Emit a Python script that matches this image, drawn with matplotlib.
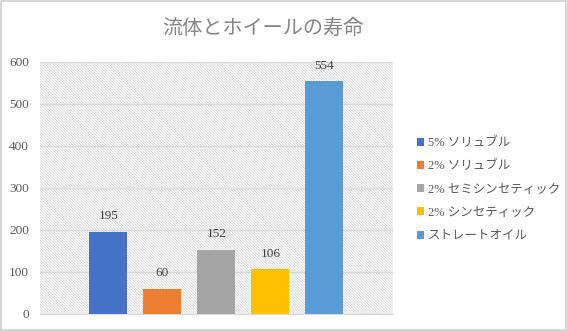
import matplotlib
matplotlib.use("Agg")
import matplotlib.pyplot as plt
from matplotlib.patches import Rectangle

series = ["5% ソリュブル", "2% ソリュブル", "2% セミシンセティック", "2% シンセティック", "ストレートオイル"]
values = [195, 60, 152, 106, 554]
colors = ["#4472C4", "#ED7D31", "#A5A5A5", "#FFC000", "#5B9BD5"]
yticks = [0, 100, 200, 300, 400, 500, 600]
title = "流体とホイールの寿命"

plt.rcParams["hatch.color"] = "#d6d6d6"
plt.rcParams["hatch.linewidth"] = 0.6

fig = plt.figure(figsize=(5.67, 3.31), dpi=100)
fig.patch.set_facecolor("white")
# thin frame around the whole figure
fig.patches.append(Rectangle((0.001, 0.002), 0.997, 0.995, transform=fig.transFigure,
                             fill=False, edgecolor="#d0d0d0", linewidth=1.2))

ax = fig.add_axes([0.0705, 0.0514, 0.6225, 0.7613])
ax.set_xlim(-0.5, 0.5)
ax.set_ylim(0, 600)

# hatched plot-area background
ax.add_patch(Rectangle((0, 0), 1, 1, transform=ax.transAxes, facecolor="white",
                       edgecolor="#d6d6d6", hatch="\\" * 12, linewidth=0, zorder=0))

ax.set_yticks(yticks)
ax.yaxis.grid(True, color="#d9d9d9", linewidth=1.0)
ax.set_axisbelow(True)
for s in ["top", "right", "left"]:
    ax.spines[s].set_visible(False)
ax.spines["bottom"].set_color("#d9d9d9")
ax.tick_params(axis="y", length=0, labelsize=9.5, labelcolor="#595959", pad=8)
ax.tick_params(axis="x", length=0, labelbottom=False)
for lab in ax.get_yticklabels():
    lab.set_family("Liberation Serif")

n = len(values)
step = 54 / 353
width = 38 / 353
for i, (name, v, c) in enumerate(zip(series, values, colors)):
    x = (i - (n - 1) / 2) * step
    ax.bar(x, v, width=width, color=c, label=name, zorder=2)
    ax.annotate(str(v), (x, v), xytext=(0, 7), textcoords="offset points",
                ha="center", va="bottom", fontsize=9.5, color="#404040",
                family="Liberation Serif")

fig.text(0.464, 0.915, title, ha="center", va="center", fontsize=14.5, color="#858585",
         family=["Noto Sans CJK JP", "DejaVu Sans"])

leg = fig.legend(loc="upper left", bbox_to_anchor=(0.715, 0.62), frameon=False,
                 handlelength=0.6, handleheight=0.6, handletextpad=0.3,
                 labelspacing=0.9, prop={"family": ["Liberation Serif", "Noto Sans CJK JP"], "size": 9})
for t in leg.get_texts():
    t.set_color("#595959")

fig.savefig("out.png", dpi=100)
